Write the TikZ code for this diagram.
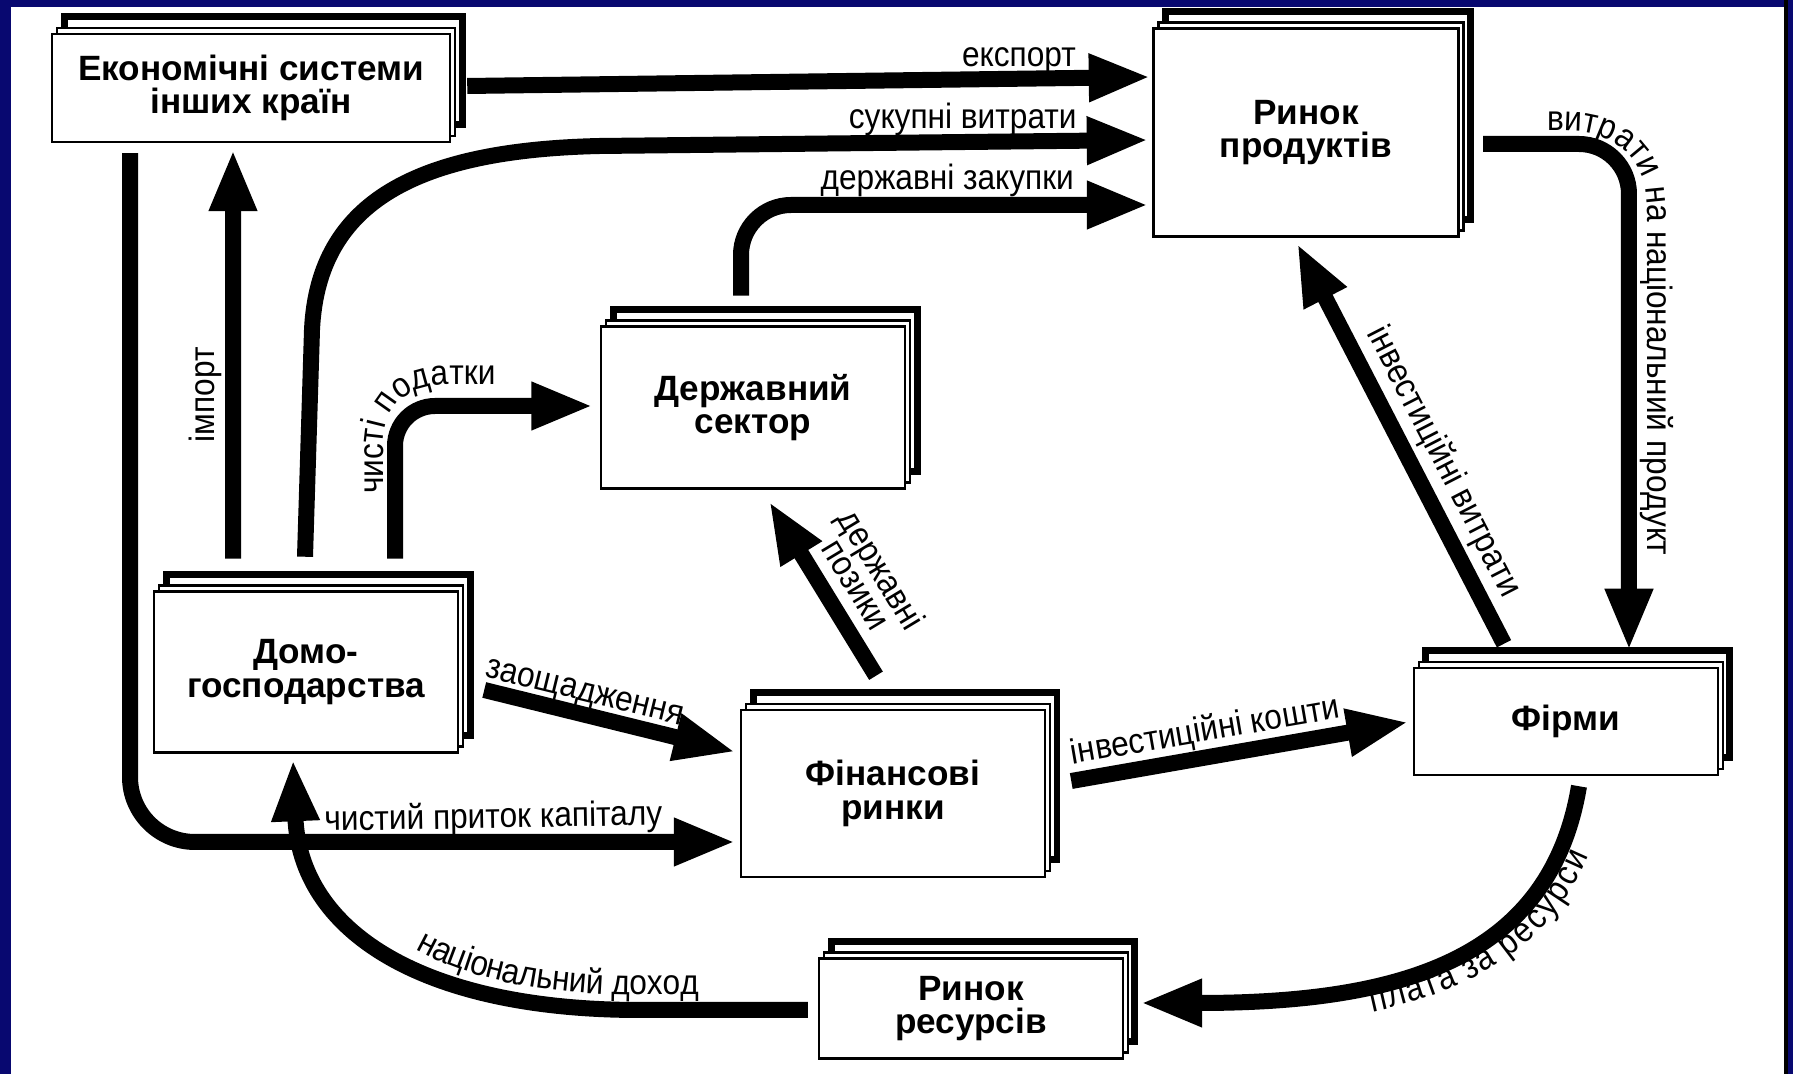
\documentclass[tikz,border=0pt]{standalone}
\usepackage{fontspec}
\setmainfont{Liberation Sans}
\newfontfamily\narrowfont{Liberation Sans}[FakeStretch=0.9]
\usepackage{tikz}
\usetikzlibrary{arrows.meta, decorations.text, positioning}
\definecolor{framecol}{RGB}{8,8,112}
\newcommand{\boxfont}{\bfseries\fontsize{10}{9.6}\selectfont}
\newcommand{\lblfont}{\narrowfont\fontsize{10}{8.4}\selectfont}
\tikzstyle{sector}=[rectangle, draw=black, line width=0.25mm, fill=white, align=center, minimum width=30.4mm, font=\boxfont,
  preaction={draw=black, line width=0.7mm, fill=white, transform canvas={shift={(1.2mm,1.7mm)}}},
  preaction={draw=black, line width=0.25mm, fill=white, transform canvas={shift={(0.5mm,0.6mm)}}}]
\tikzstyle{flow}=[line width=1.6mm, -{Triangle[length=6.2mm, width=4.4mm]}]
\tikzstyle{lbl}=[font=\lblfont, inner sep=0pt]

\begin{document}
\begin{tikzpicture}[x=0.1mm, y=-0.1mm, node distance=30mm]
    % Frame.
    \useasboundingbox (0,0) rectangle (1793,1074);
    \fill[white] (0,0) rectangle (1793,1074);
    \fill[framecol] (0,0) rectangle (11,1074);
    \fill[framecol] (0,0) rectangle (1793,7);
    \fill[black] (1784,0) rectangle (1788,1074);
    \fill[framecol] (1788,0) rectangle (1793,1074);

    % Sectors.
    \node[sector, minimum height=16.1mm] (hh) at (306,672) {Домо-\\господарства};
    \node[sector, minimum height=16.7mm] (fin) [right of=hh, xshift=28.7mm, yshift=-12.15mm] {Фінансові\\ринки};
    \node[sector, minimum height=16.2mm] (gov) [above of=fin, xshift=-14mm, yshift=8.6mm] {Державний\\сектор};
    \node[sector, minimum width=39.8mm, minimum height=10.8mm] (ext) [above of=hh, xshift=-5.5mm, yshift=28.4mm] {Економічні системи\\інших країн};
    \node[sector, minimum width=30.5mm, minimum height=20.8mm] (prod) [right of=gov, xshift=25.3mm, yshift=27.5mm] {Ринок\\продуктів};
    \node[sector, minimum height=10.7mm] (firms) [right of=fin, xshift=37.3mm, yshift=7.2mm] {Фірми};
    \node[sector, minimum height=10mm] (res) [below of=fin, xshift=7.8mm, yshift=8.5mm] {Ринок\\ресурсів};

    % Foreign flows.
    \draw[flow] ([shift={(16,-2)}]ext.east) --
      node[lbl, pos=.902, yshift=1.1mm, anchor=base east] {експорт} ([shift={(-1.5,-55.5)}]prod.west);
    \draw[flow] ([shift={(-73,-31.5)}]hh.north) --
      node[lbl, pos=.4, xshift=-1.9mm, rotate=90, anchor=base] {імпорт} ([shift={(-18,6)}]ext.south);
    \draw[flow, rounded corners=6.5mm] ([shift={(-121,10)}]ext.south) |-
      node[lbl, pos=.8, yshift=1.4mm, rotate=1, anchor=base] {чистий приток капіталу} ([shift={(-4,48.5)}]fin.west);

    % Households.
    \draw[flow] ([shift={(-1,-33.5)}]hh.north) -- (312,330) .. controls (318,200) and (420,150) .. (600,146) --
      node[lbl, pos=.883, yshift=1.25mm, anchor=base east] {сукупні витрати} ([shift={(-3.5,7.5)}]prod.west);
    \draw[flow, rounded corners=4mm] ([shift={(89,-31.5)}]hh.north) |- ([shift={(-6.5,-1.5)}]gov.west);
    \path[decorate, decoration={text along path, text={|\lblfont|чисті податки}}]
      (383,494) -- (383,450) .. controls (383,405) and (405,385) .. (450,385) -- (560,385);
    \draw[flow] ([shift={(25,18)}]hh.east) --
      node[lbl, pos=.38, xshift=.31mm, yshift=1.26mm, rotate=-13.8, anchor=base] {заощадження} ([shift={(-4,-41.5)}]fin.west);

    % Government.
    \draw[flow, rounded corners=5mm] ([shift={(-12,-29.5)}]gov.north) |-
      node[lbl, pos=.918, yshift=1.5mm, anchor=base east] {державні закупки} ([shift={(-3.5,72.5)}]prod.west);
    \draw[flow] ([shift={(-17,-33)}]fin.north) --
      node[lbl, align=center, pos=.43, xshift=3.95mm, yshift=2.4mm, rotate=-58.9] {державні\\позики} ([shift={(16,11.5)}]gov.south);

    % Firms.
    \draw[flow, rounded corners=5mm] ([shift={(23.5,11.5)}]prod.east) -| ([shift={(63,-16)}]firms.north);
    \path[decorate, decoration={text along path, text={|\lblfont|витрати на національний продукт}}]
      (1547,131) -- (1568,131) .. controls (1615,131) and (1647,160) .. (1647,205) -- (1647,640);
    \draw[flow] ([shift={(-62,-23)}]firms.north) --
      node[lbl, pos=.42, xshift=1.8mm, yshift=.93mm, rotate=-62.8, anchor=base] {інвестиційні витрати} ([shift={(-9,5.5)}]prod.south);
    \draw[flow] ([shift={(25,-12.5)}]fin.east) --
      node[lbl, pos=.41, xshift=-.27mm, yshift=1.58mm, rotate=9.8, anchor=base] {інвестиційні кошти} ([shift={(-4,0.5)}]firms.west);

    % Resources.
    \draw[flow] ([shift={(13,10)}]firms.south) .. controls (1550,960) and (1400,1003) .. ([shift={(16,-5.5)}]res.east);
    \path[decorate, decoration={text along path, raise=-2.8mm,
        text align={right, right indent=6mm}, text={|\lblfont|плата за ресурси}}]
      ([shift={(16,-5.5)}]res.east) .. controls (1400,1003) and (1550,960) .. ([shift={(13,10)}]firms.south);
    \draw[flow] ([shift={(-10,1.5)}]res.west) -- (640,1010) .. controls (420,1010) and (300,930) .. ([shift={(-13,5.5)}]hh.south);
    \path[decorate, decoration={text along path, raise=1.5mm,
        text align={right, right indent=10.9mm}, text={|\lblfont|національний доход}}]
      ([shift={(-13,5.5)}]hh.south) .. controls (300,930) and (420,1010) .. (640,1010) -- ([shift={(-10,1.5)}]res.west);
\end{tikzpicture}
\end{document}
